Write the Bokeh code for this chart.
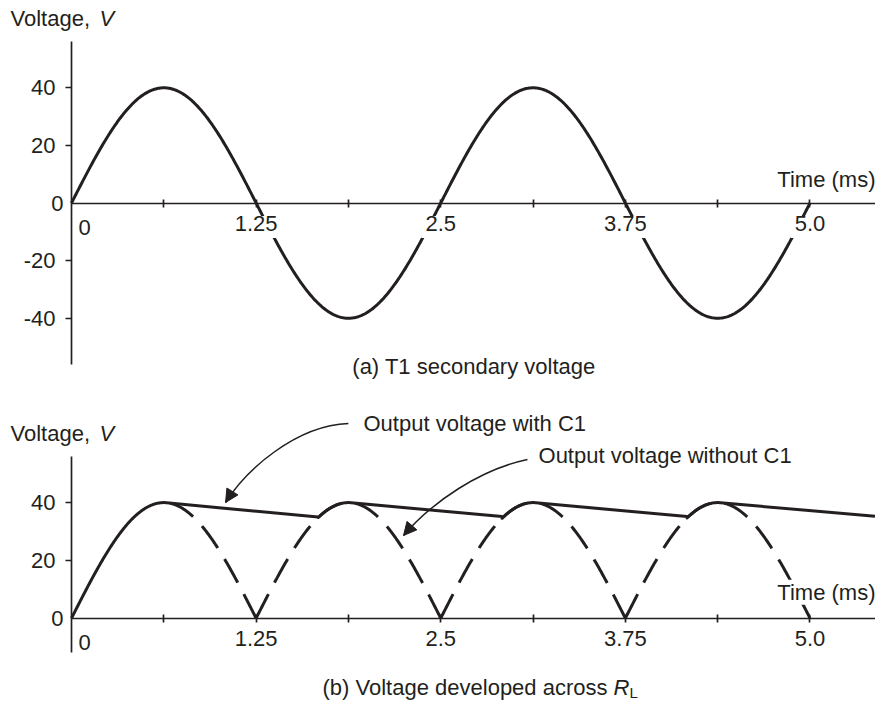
import numpy as np
from bokeh.plotting import figure
from bokeh.layouts import column
from bokeh.models import (Label, FixedTicker, LinearAxis, Arrow, NormalHead, Range1d)
from bokeh.embed import file_html
from bokeh.resources import INLINE

# ---------------- data ----------------
peak_voltage = 40.0          # V, amplitude of the T1 secondary
period_ms = 2.5              # ms, one full cycle
time_end_ms = 5.0            # last plotted instant of the waveforms
x_ticks = [0.625, 1.25, 1.875, 2.5, 3.125, 3.75, 4.375, 5.0]
x_label_values = [1.25, 2.5, 3.75, 5.0]
x_label_texts = ["1.25", "2.5", "3.75", "5.0"]
y_ticks_top = [-40, -20, 20, 40]
y_ticks_bottom = [20, 40]
# reservoir capacitor C1: charge peaks and the end of each discharge ramp
charge_peak_t = [0.625, 1.875, 3.125, 4.375]
charge_peak_v = [40.0, 40.0, 40.0, 40.0]
discharge_end_t = [1.67, 2.915, 4.168, 5.44]
discharge_end_v = [35.0, 35.2, 35.2, 35.3]

# ---------------- styling / layout constants ----------------
INK = "#231f20"
FONT = "Liberation Sans"
FS = "22px"
W = 875
X_MIN, X_MAX = -0.4807, 5.4435
LW_CURVE = 3
LW_AXIS = 1.7
LABEL_DROP_PX = 24          # centre of time labels below the axis


def wave(t):
    return peak_voltage * np.sin(2 * np.pi * np.asarray(t) / period_ms)


def tspan(a, b, n=200):
    return np.linspace(a, b, n)


def lab(p, x, y, text, size=FS, style="normal", align="left", xo=0, yo=0, bg=None):
    p.add_layout(Label(x=x, y=y, text=text, text_font=FONT, text_font_size=size,
                       text_font_style=style, text_color=INK, text_align=align,
                       text_baseline="middle", x_offset=xo, y_offset=yo,
                       background_fill_color=bg))


def style_axis(ax):
    ax.axis_line_color = INK
    ax.axis_line_width = LW_AXIS
    ax.major_tick_line_color = INK
    ax.major_tick_line_width = LW_AXIS
    ax.minor_tick_line_color = None
    ax.major_label_text_font = FONT
    ax.major_label_text_font_size = FS
    ax.major_label_text_color = INK


def base_fig(height, y_range, y_ticks, y_bounds):
    p = figure(width=W, height=height, x_range=Range1d(X_MIN, X_MAX), y_range=Range1d(*y_range),
               output_backend="svg", toolbar_location=None,
               x_axis_location=None, y_axis_location=None, min_border=0)
    p.outline_line_color = None
    p.grid.visible = False
    p.background_fill_color = "white"
    p.border_fill_color = "white"

    # voltage axis at t = 0
    yax = LinearAxis(fixed_location=0, bounds=y_bounds)
    yax.ticker = FixedTicker(ticks=y_ticks, minor_ticks=[])
    yax.major_label_overrides = {t: str(t) for t in y_ticks}
    style_axis(yax)
    yax.major_tick_out = 6
    yax.major_tick_in = 0
    yax.major_label_standoff = 10
    p.add_layout(yax, "left")

    # time axis at V = 0
    xax = LinearAxis(fixed_location=0, bounds=(0, X_MAX))
    xax.ticker = FixedTicker(ticks=x_ticks, minor_ticks=[])
    names = dict(zip(x_label_values, x_label_texts))
    xax.major_label_overrides = {t: names.get(t, "") for t in x_ticks}
    style_axis(xax)
    xax.major_tick_out = 4
    xax.major_tick_in = 4
    xax.major_label_standoff = 9
    p.add_layout(xax, "below")

    lab(p, 0, 0, "0", xo=7, yo=-LABEL_DROP_PX)   # time origin label
    lab(p, 0, 0, "0", xo=-8, align="right")       # voltage origin label
    return p


def mask_time_labels(p, px_per_volt):
    """white boxes under the time tick labels so a curve passing behind them is hidden"""
    widths = [len(s) * 11 + 6 for s in x_label_texts]
    p.rect(x=x_label_values, y=[-LABEL_DROP_PX / px_per_volt] * len(x_label_values),
           width=widths, height=22, width_units="screen", height_units="screen",
           fill_color="white", line_color=None)


def curved_arrow(p, pts):
    (x0, y0), (cx0, cy0), (cx1, cy1), (x1, y1) = pts
    p.bezier(x0=[x0], y0=[y0], x1=[x1], y1=[y1], cx0=[cx0], cy0=[cy0], cx1=[cx1], cy1=[cy1],
             line_color=INK, line_width=1.5)
    p.add_layout(Arrow(end=NormalHead(size=13, fill_color=INK, line_color=INK, line_width=1),
                       x_start=x1 + 0.3 * (cx1 - x1), y_start=y1 + 0.3 * (cy1 - y1),
                       x_end=x1, y_end=y1, line_color=INK, line_width=1.5))


# ================= (a) T1 secondary voltage =================
H1, Y1 = 385, (-63.35, 70.31)
p1 = base_fig(H1, Y1, y_ticks_top, (-56, 56))
t = tspan(0, time_end_ms, 800)
p1.line(t, wave(t), line_color=INK, line_width=LW_CURVE, line_join="round")
mask_time_labels(p1, H1 / (Y1[1] - Y1[0]))
lab(p1, -0.4130, 64.06, "Voltage,")
lab(p1, 0.1900, 64.06, "V", style="italic")
lab(p1, X_MAX, 0, "Time (ms)", align="right", yo=23.5, bg="white")
lab(p1, 2.725, -56.6, "(a) T1 secondary voltage", align="center")

# ================= (b) voltage across R_L =================
p2 = base_fig(317, (-29.17, 80.52), y_ticks_bottom, (-12, 56))

# without C1: full-wave rectified arches, each drawn from a trough
half = period_ms / 2
troughs = np.arange(0, time_end_ms + 1e-9, half)
arch_x, arch_y = [], []
first = tspan(troughs[1], charge_peak_t[0])
arch_x.append(first); arch_y.append(np.abs(wave(first)))
for a, b in zip(troughs[1:-1], troughs[2:]):
    seg = tspan(a, b)
    arch_x.append(seg); arch_y.append(np.abs(wave(seg)))
p2.multi_line(arch_x, arch_y, line_color=INK, line_width=LW_CURVE, line_dash="27 13")

# with C1: charge along the sine, then discharge ramp
xs = [tspan(0, charge_peak_t[0])]
for i in range(len(charge_peak_t)):
    xs.append(np.array([charge_peak_t[i], discharge_end_t[i]]))
    if i + 1 < len(charge_peak_t):
        xs.append(tspan(discharge_end_t[i], charge_peak_t[i + 1], 60))
ys = []
for k, seg in enumerate(xs):
    if k % 2 == 1:
        i = k // 2
        ys.append(np.array([charge_peak_v[i], discharge_end_v[i]]))
    else:
        ys.append(np.abs(wave(seg)))
p2.line(np.concatenate(xs), np.concatenate(ys), line_color=INK, line_width=LW_CURVE,
        line_join="round")

lab(p2, -0.4130, 63.9, "Voltage,")
lab(p2, 0.1900, 63.9, "V", style="italic")
lab(p2, X_MAX, 0, "Time (ms)", align="right", yo=26, bg="white")
lab(p2, 1.977, 67.37, "Output voltage with C1")
lab(p2, 3.162, 56.3, "Output voltage without C1")
curved_arrow(p2, [(1.875, 67.37), (1.516, 66.68), (1.178, 51.11), (1.043, 40.03)])
curved_arrow(p2, [(3.087, 54.91), (2.769, 51.45), (2.444, 40.38), (2.248, 28.61)])
lab(p2, 3.629, -24.0, "(b) Voltage developed across", align="right")
lab(p2, 3.670, -24.0, "R", style="italic")
lab(p2, 3.778, -24.0, "L", size="15px", yo=-5)

layout = column(p1, p2, spacing=0)
open("out.html", "w").write(file_html(layout, INLINE))
